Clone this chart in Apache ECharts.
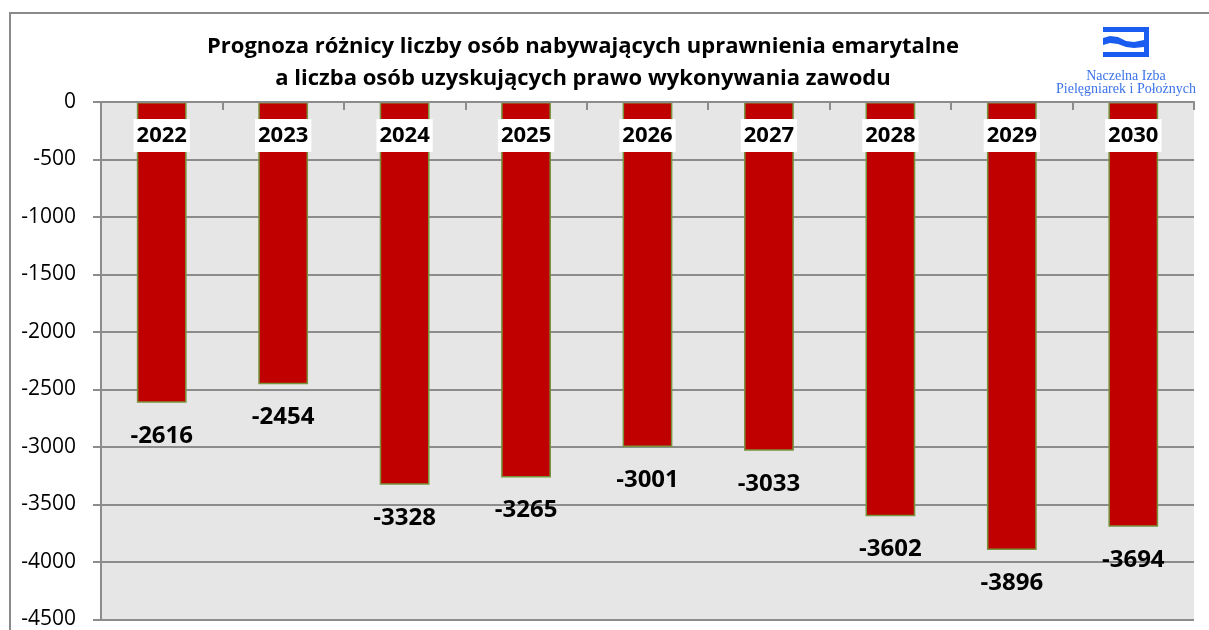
<!DOCTYPE html>
<html><head><meta charset="utf-8">
<script src="https://cdn.jsdelivr.net/npm/echarts@6/dist/echarts.min.js"></script>
<style>html,body{margin:0;padding:0;background:#fff}#c{width:1209px;height:630px}</style>
</head><body><div id="c"></div>
<script>
const years = ['2022','2023','2024','2025','2026','2027','2028','2029','2030'];
const diffValues = [-2616,-2454,-3328,-3265,-3001,-3033,-3602,-3896,-3694];
const titleLines = ['Prognoza różnicy liczby osób nabywających uprawnienia emarytalne','a liczba osób uzyskujących prawo wykonywania zawodu'];
const logoLines = ['Naczelna Izba','Pielęgniarek i Położnych'];

const chart = echarts.init(document.getElementById('c'));
const F = '"Open Sans", Lato, sans-serif';
chart.setOption({
  animation:false,
  backgroundColor:'#fff',
  grid:{left:101, right:15, top:102, bottom:8, show:true, backgroundColor:'#e6e6e6', borderWidth:0},
  xAxis:{type:'category', data:years, position:'top', z:10,
    axisLine:{show:true, lineStyle:{color:'#8c8c8c', width:2}},
    axisTick:{show:true, inside:true, length:8, lineStyle:{color:'#8c8c8c', width:2}},
    axisLabel:{inside:true, margin:17, fontFamily:F, fontWeight:'bold', fontSize:22, color:'#000',
      backgroundColor:'#fff', padding:[6,3,5,3]},
    splitLine:{show:false}},
  yAxis:{type:'value', min:-4500, max:0, interval:500,
    axisLine:{show:true, lineStyle:{color:'#8c8c8c', width:2}},
    axisTick:{show:true, length:8, lineStyle:{color:'#8c8c8c', width:2}},
    axisLabel:{margin:25, fontFamily:F, fontSize:21, color:'#000', formatter:v=>String(v)},
    splitLine:{show:true, lineStyle:{color:'#8c8c8c', width:2}}},
  series:[{type:'bar', data:diffValues, barWidth:'41%',
    itemStyle:{color:'#c00000', borderColor:'#77933c', borderWidth:1.5},
    label:{show:true, position:'bottom', distance:21, fontFamily:F, fontWeight:'bold', fontSize:24, color:'#000'}}],
  graphic:[
    {type:'rect', shape:{x:10, y:13, width:1210, height:630}, style:{fill:'none', stroke:'#8a8a8a', lineWidth:2}, z:100},
    {type:'text', x:583, y:47, style:{text:titleLines[0], textAlign:'center', textVerticalAlign:'middle', fontFamily:'"Open Sans", sans-serif', fontWeight:'bold', fontSize:22, fill:'#000'}},
    {type:'text', x:583, y:79, style:{text:titleLines[1], textAlign:'center', textVerticalAlign:'middle', fontFamily:'"Open Sans", sans-serif', fontWeight:'bold', fontSize:22, fill:'#000'}},
    {type:'polygon', shape:{points:[[1103,27],[1149,27],[1149,57],[1103,57],[1103,52],[1144,52],[1144,32],[1103,32]]}, style:{fill:'#1a5cf0'}},
    {type:'polygon', shape:{points:[[1103,38],[1110,36],[1118,37],[1126,41],[1134,42],[1144,40],[1144,47],[1134,48],[1126,47],[1118,44],[1110,43],[1103,45]]}, style:{fill:'#1a5cf0'}},
    {type:'text', x:1126, y:69, style:{text:logoLines[0], textAlign:'center', fontFamily:'"Liberation Serif", serif', fontSize:14, fill:'#3b73e8'}},
    {type:'text', x:1126, y:82, style:{text:logoLines[1], textAlign:'center', fontFamily:'"Liberation Serif", serif', fontSize:14, fill:'#3b73e8'}}
  ]
});
</script></body></html>
